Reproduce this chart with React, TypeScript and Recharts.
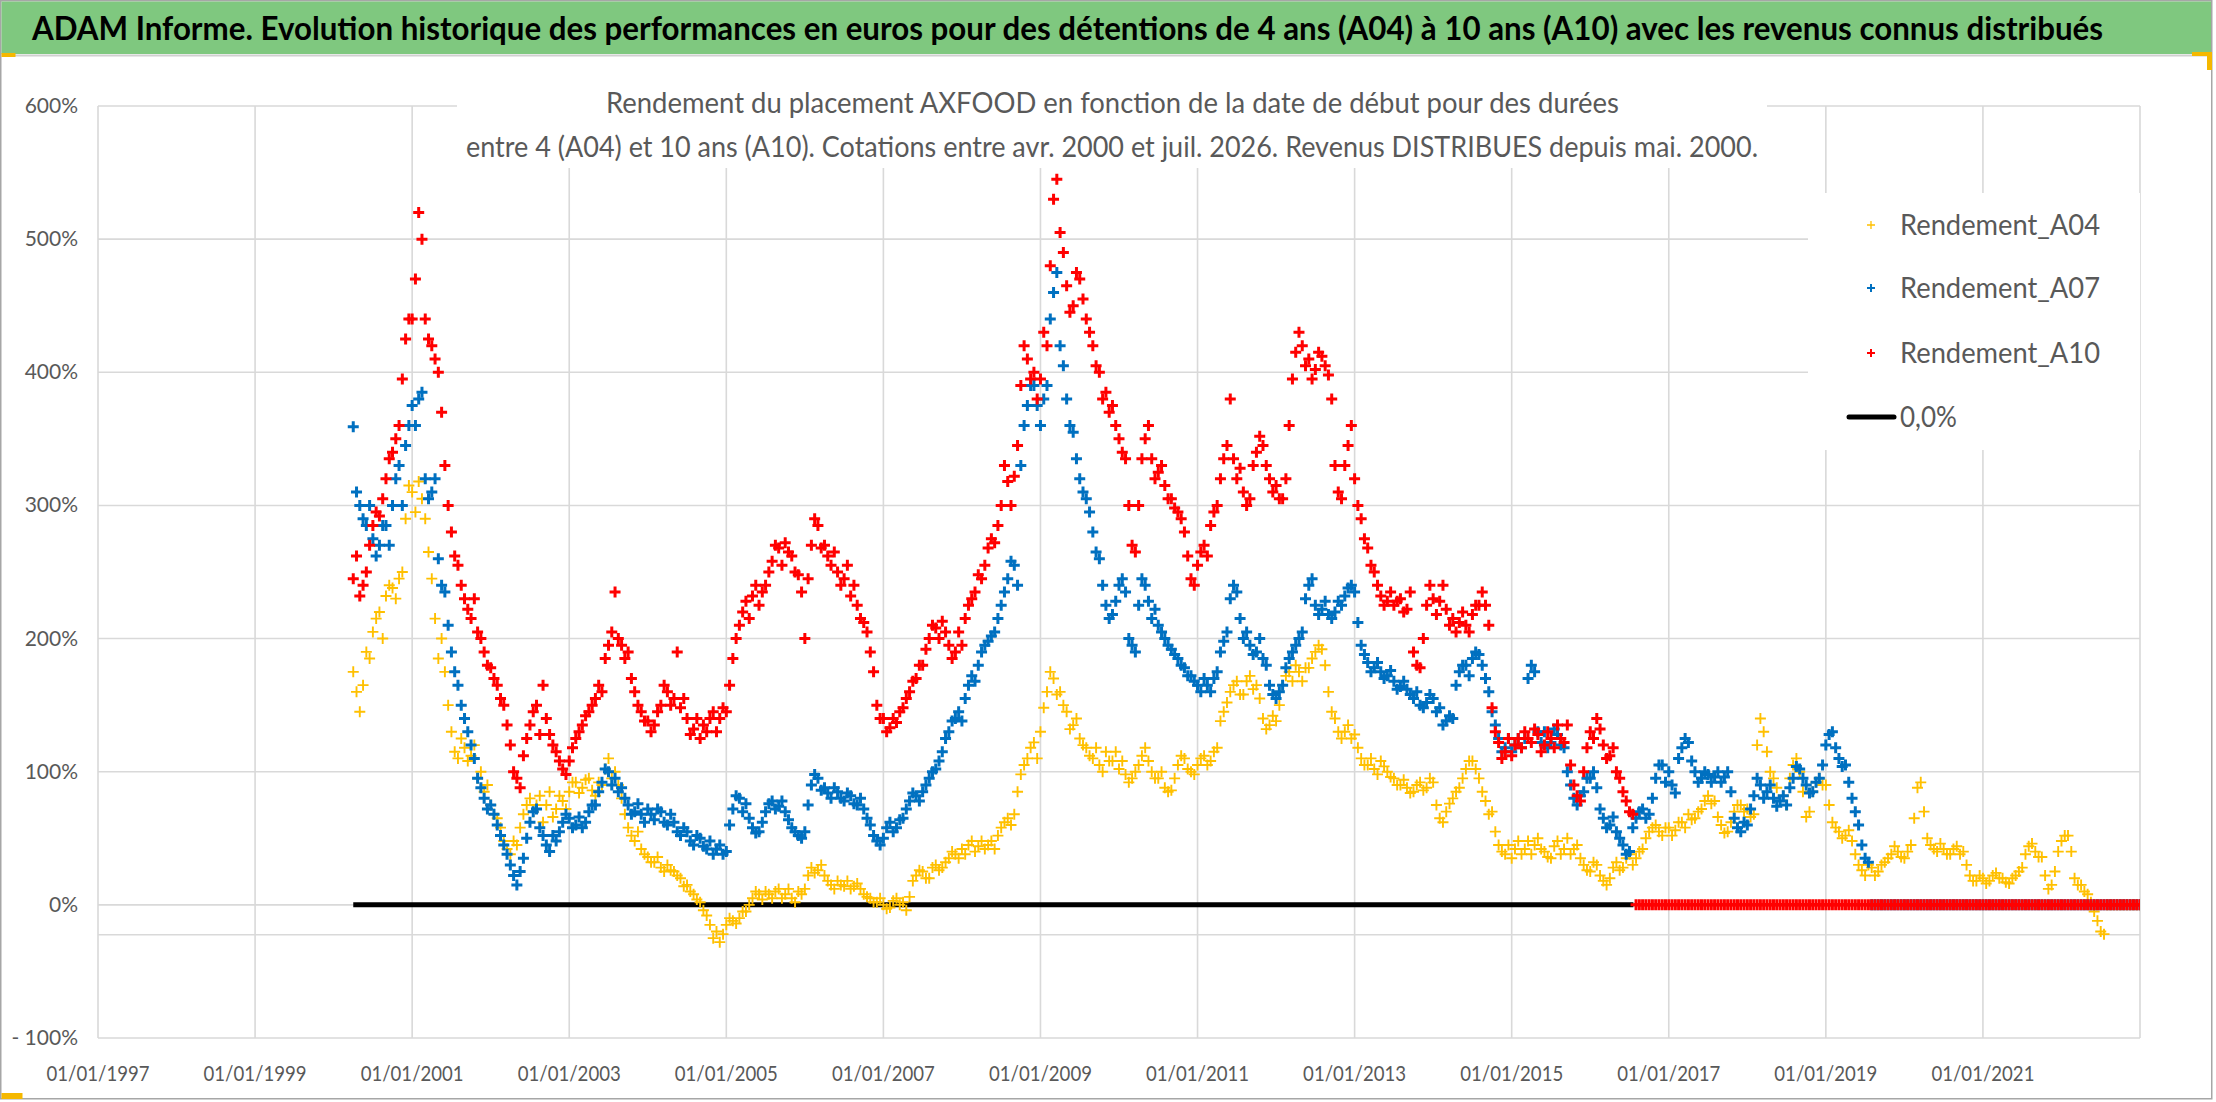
import React from 'react';
import { ScatterChart, Scatter, XAxis, YAxis, CartesianGrid, ReferenceLine } from 'recharts';

const N = null;

// start dates: one row per year; *_ROWS = 1st of each month, *_MID = mid-month readings
const YEARS = [2000, 2001, 2002, 2003, 2004, 2005, 2006, 2007, 2008, 2009, 2010, 2011, 2012, 2013, 2014, 2015, 2016, 2017, 2018, 2019, 2020, 2021, 2022, 2023];
const Z12 = [0, 0, 0, 0, 0, 0, 0, 0, 0, 0, 0, 0];

const A04_ROWS = [
  [N, N, N, 175, 145, 190, 205, 220, 232, 238, 245, 290],
  [310, 318, 290, 245, 185, 175, 130, 110, 118, 112, 95, 85],
  [75, 65, 48, 38, 45, 68, 80, 75, 62, 85, 72, 78],
  [85, 92, 88, 95, 82, 90, 110, 100, 80, 58, 48, 42],
  [36, 32, 28, 30, 25, 20, 15, 8, 2, -8, -25, -28],
  [-15, -12, -10, -5, 5, 8, 10, 5, 12, 8, 5, 10],
  [12, 28, 26, 22, 15, 18, 14, 12, 16, 8, 5, 2],
  [0, -2, 5, 2, 6, 22, 25, 20, 30, 28, 35, 38],
  [42, 45, 40, 48, 45, 42, 58, 65, 68, 98, 110, 122],
  [130, 160, 170, 160, 145, 135, 125, 118, 110, 105, 115, 108],
  [102, 98, 95, 105, 118, 100, 95, 88, 86, 105, 110, 100],
  [105, 112, 108, 118, 145, 160, 168, 158, 172, 165, 140, 135],
  [138, 165, 175, 180, 168, 178, 190, 192, 160, 140, 125, 135],
  [128, 110, 105, 102, 108, 100, 95, 90, 88, 85, 92, 88],
  [92, 65, 70, 80, 88, 102, 108, 95, 78, 70, 45, 38],
  [35, 48, 42, 38, 50, 40, 35, 48, 42, 38, 45, 30],
  [25, 30, 18, 20, 32, 28, 38, 35, 42, 55, 60, 52],
  [58, 56, 62, 68, 65, 72, 82, 78, 60, 55, 70, 75],
  [72, 68, 140, 115, 95, 78, 75, 105, 100, 66, 85, 95],
  [90, 62, 55, 52, 48, 30, 22, 28, 25, 32, 38, 40],
  [35, 45, 88, 70, 45, 40, 42, 38, 44, 40, 22, 18],
  [20, 18, 24, 20, 16, 22, 28, 44, 40, 36, 12, 25],
  [48, 52, 20, 15, 8, -5, -20, 0, 0, 0, 0, 0],
  [0],
];

const A04_MID = [
  [N, N, N, 160, 165, 185, 215, 200, 240, 230, 250, 315],
  [295, 305, 265, 215, 200, 150, 115, 125, 108, 120, 100, 90],
  [68, 58, 42, 48, 58, 75, 70, 82, 75, 66, 82, 72],
  [92, 84, 94, 86, 92, 102, 95, 90, 68, 52, 55, 38],
  [32, 36, 25, 26, 22, 14, 10, 4, -4, -15, -20, -22],
  [-10, -14, -5, 0, 10, 4, 8, 10, 5, 12, 2, 8],
  [22, 24, 30, 18, 12, 15, 18, 14, 12, 6, 2, 5],
  [-3, 3, 0, -4, 18, 26, 20, 28, 26, 32, 40, 35],
  [38, 48, 44, 42, 48, 52, 62, 60, 85, 105, 118, 110],
  [148, 175, 158, 150, 132, 140, 120, 112, 118, 100, 108, 115],
  [108, 92, 100, 112, 108, 95, 100, 85, 95, 112, 102, 98],
  [110, 105, 115, 138, 152, 165, 158, 168, 162, 155, 132, 142],
  [150, 172, 168, 175, 178, 185, 195, 180, 145, 130, 130, 125],
  [118, 105, 110, 98, 104, 96, 90, 94, 84, 90, 86, 95],
  [75, 62, 76, 85, 95, 108, 102, 85, 68, 55, 40, 45],
  [42, 38, 48, 45, 42, 36, 44, 38, 50, 42, 35, 26],
  [32, 22, 15, 28, 26, 35, 30, 40, 50, 58, 55, 58],
  [52, 62, 58, 64, 70, 78, 76, 66, 54, 62, 75, 70],
  [66, 120, 130, 100, 88, 82, 95, 110, 85, 70, 92, 90],
  [75, 58, 50, 56, 38, 26, 30, 22, 30, 35, 44, 36],
  [40, 65, 92, 50, 42, 46, 38, 42, 38, 30, 18, 22],
  [16, 22, 20, 17, 20, 25, 38, 46, 36, 22, 15, 40],
  [52, 40, 15, 10, 2, -12, -22, 0, 0, 0, 0, 0],
];

const A07_ROWS = [
  [N, N, N, 359, 300, 285, 275, 270, 285, 300, 330, 345],
  [375, 380, 320, 310, 260, 235, 190, 165, 140, 120, 95, 80],
  [75, 60, 45, 30, 15, 35, 62, 72, 52, 40, 48, 62],
  [65, 60, 58, 70, 75, 92, 100, 95, 88, 75, 70, 68],
  [72, 64, 70, 60, 62, 52, 55, 45, 50, 42, 38, 45],
  [40, 72, 80, 76, 58, 55, 70, 78, 74, 70, 58, 52],
  [55, 90, 95, 88, 80, 85, 78, 82, 75, 72, 60, 48],
  [50, 62, 58, 65, 78, 82, 85, 95, 102, 115, 130, 140],
  [138, 165, 168, 190, 198, 205, 225, 245, 255, 330, 375, 390],
  [360, 390, 460, 420, 380, 355, 320, 305, 280, 260, 225, 218],
  [240, 235, 195, 225, 240, 215, 210, 200, 192, 185, 178, 172],
  [165, 170, 160, 175, 198, 230, 235, 200, 195, 190, 185, 165],
  [155, 165, 185, 195, 205, 240, 225, 222, 218, 220, 225, 238],
  [235, 195, 182, 178, 175, 172, 168, 164, 162, 155, 150, 152],
  [155, 148, 138, 140, 175, 180, 185, 188, 170, 145, 125, 118],
  [115, 125, 125, 180, 130, 130, 122, 128, 118, 90, 75, 85],
  [95, 88, 65, 60, 55, 45, 40, 65, 72, 68, 95, 105],
  [100, 84, 118, 122, 100, 95, 98, 96, 92, 100, 65, 55],
  [60, 82, 90, 85, 80, 78, 75, 95, 102, 90, 85, 95],
  [120, 130, 110, 105, 80, 60, 35, 0, 0, 0, 0, 0],
  Z12,
  Z12,
  Z12,
  [0],
];

const A07_MID = [
  [N, N, N, 310, 290, 300, 262, 285, 270, 320, 300, 360],
  [360, 385, 305, 320, 240, 210, 175, 150, 130, 110, 88, 72],
  [68, 52, 38, 22, 25, 50, 70, 58, 45, 52, 55, 68],
  [58, 66, 62, 75, 85, 102, 90, 85, 80, 68, 76, 62],
  [68, 72, 62, 68, 55, 58, 48, 52, 44, 48, 42, 38],
  [60, 82, 70, 65, 54, 62, 76, 72, 78, 64, 55, 50],
  [75, 98, 86, 84, 88, 80, 84, 76, 80, 65, 52, 45],
  [58, 55, 64, 72, 84, 78, 90, 100, 108, 125, 138, 145],
  [155, 172, 180, 195, 202, 215, 235, 258, 240, 360, 390, 375],
  [380, 440, 475, 405, 360, 335, 310, 295, 265, 240, 215, 228],
  [245, 200, 190, 245, 228, 222, 205, 195, 188, 180, 172, 168],
  [160, 165, 170, 190, 205, 240, 215, 205, 188, 200, 180, 158],
  [160, 178, 190, 200, 230, 245, 218, 228, 215, 228, 232, 240],
  [212, 188, 175, 182, 170, 176, 162, 168, 158, 160, 148, 158],
  [145, 135, 142, 165, 180, 172, 190, 180, 160, 135, 115, 125],
  [120, 118, 170, 175, 122, 118, 132, 120, 100, 80, 82, 95],
  [100, 72, 58, 66, 50, 38, 58, 70, 65, 80, 105, 92],
  [90, 110, 125, 108, 92, 100, 92, 100, 96, 85, 58, 62],
  [72, 95, 80, 90, 74, 82, 88, 104, 95, 84, 92, 105],
  [128, 118, 104, 92, 70, 45, 32, 0, 0, 0, 0, 0],
  Z12,
  Z12,
  Z12,
];

const A10_ROWS = [
  [N, N, N, 245, 232, 250, 285, 292, 320, 340, 360, 425],
  [440, 520, 440, 420, 400, 330, 280, 255, 230, 215, 205, 190],
  [178, 165, 150, 120, 95, 112, 135, 150, 165, 128, 115, 102],
  [108, 125, 135, 145, 155, 160, 195, 235, 195, 190, 160, 145],
  [138, 135, 150, 160, 155, 148, 140, 132, 125, 130, 145, 140],
  [145, 185, 210, 228, 232, 225, 240, 258, 268, 272, 262, 248],
  [200, 270, 285, 270, 255, 250, 245, 232, 225, 212, 190, 150],
  [140, 133, 137, 148, 160, 170, 180, 200, 208, 213, 195, 190],
  [195, 225, 235, 245, 268, 272, 300, 318, 322, 390, 410, 400],
  [395, 420, 530, 505, 465, 450, 470, 440, 420, 400, 385, 375],
  [350, 335, 270, 300, 350, 335, 325, 315, 305, 295, 280, 245],
  [255, 270, 285, 300, 335, 380, 320, 310, 305, 340, 345, 320],
  [315, 305, 360, 415, 420, 410, 402, 412, 398, 330, 305, 345],
  [320, 290, 268, 250, 232, 228, 225, 230, 222, 190, 178, 225],
  [230, 228, 222, 215, 212, 210, 218, 225, 225, 148, 122, 115],
  [112, 125, 130, 122, 128, 120, 125, 135, 122, 105, 82, 100],
  [130, 140, 120, 112, 100, 85, 70, 0, 0, 0, 0, 0],
  Z12,
  Z12,
  Z12,
  Z12,
  Z12,
  Z12,
  [0],
];

const A10_MID = [
  [N, N, N, 262, 240, 270, 295, 305, 335, 350, 395, 440],
  [470, 500, 425, 410, 370, 300, 262, 240, 222, 230, 200, 180],
  [170, 155, 135, 100, 88, 125, 145, 128, 140, 120, 108, 98],
  [118, 130, 142, 150, 165, 185, 205, 200, 185, 170, 150, 138],
  [130, 145, 165, 150, 190, 155, 128, 140, 135, 140, 130, 148],
  [165, 200, 220, 215, 240, 235, 250, 270, 255, 265, 250, 235],
  [245, 290, 268, 262, 265, 240, 255, 240, 215, 205, 175, 140],
  [130, 140, 145, 155, 168, 180, 192, 210, 200, 205, 185, 205],
  [215, 230, 248, 255, 275, 285, 330, 300, 345, 420, 395, 380],
  [430, 480, 545, 490, 445, 475, 455, 430, 405, 380, 370, 360],
  [340, 300, 265, 335, 360, 320, 330, 305, 298, 290, 262, 240],
  [265, 262, 295, 320, 345, 335, 328, 300, 330, 352, 330, 310],
  [305, 320, 395, 430, 405, 395, 415, 405, 380, 310, 330, 360],
  [300, 275, 255, 240, 225, 235, 228, 220, 235, 180, 200, 240],
  [218, 240, 210, 205, 220, 205, 225, 235, 210, 130, 110, 125],
  [120, 118, 125, 132, 115, 130, 118, 125, 135, 90, 78, 118],
  [125, 132, 110, 118, 95, 78, 68, 0, 0, 0, 0, 0],
  Z12,
  Z12,
  Z12,
  Z12,
  Z12,
  Z12,
];

// "0,0%" reference series: start and end dates
const ZERO_LINE = [{ x: 2000.25, y: 0 }, { x: 2016.55, y: 0 }];

const X_TICKS = [1997, 1999, 2001, 2003, 2005, 2007, 2009, 2011, 2013, 2015, 2017, 2019, 2021];
const Y_TICKS = [-100, 0, 100, 200, 300, 400, 500, 600];

const TITLE = 'ADAM Informe. Evolution historique des performances en euros pour des détentions de 4 ans (A04) à 10 ans (A10) avec les revenus connus distribués';
const SUB1 = 'Rendement du placement AXFOOD en fonction de la date de début pour des durées';
const SUB2 = 'entre 4 (A04) et 10 ans (A10). Cotations entre avr. 2000 et juil. 2026. Revenus DISTRIBUES depuis mai. 2000.';

const FONT = "Lato, 'Open Sans', sans-serif";
const GREY = '#595959';

function toPoints(rows: (number | null)[][], mid: (number | null)[][]) {
  const pts: { x: number; y: number }[] = [];
  rows.forEach((row, i) => {
    row.forEach((v, m) => {
      if (v !== null) pts.push({ x: YEARS[i] + m / 12, y: v });
    });
  });
  mid.forEach((row, i) => {
    row.forEach((v, m) => {
      if (v !== null) pts.push({ x: YEARS[i] + (m + 0.5) / 12, y: v });
    });
  });
  return pts;
}

const SERIES = [
  { name: 'Rendement_A04', data: toPoints(A04_ROWS, A04_MID), color: '#FFC000', sw: 1.9, r: 5.5 },
  { name: 'Rendement_A07', data: toPoints(A07_ROWS, A07_MID), color: '#0070C0', sw: 3, r: 5.5 },
  { name: 'Rendement_A10', data: toPoints(A10_ROWS, A10_MID), color: '#FF0000', sw: 3, r: 5.5 },
];

const plus = (color: string, sw: number, r: number) => (p: any) => {
  const { cx, cy } = p;
  if (cx == null || cy == null) return <g />;
  return <path d={`M${cx - r},${cy}H${cx + r}M${cx},${cy - r}V${cy + r}`} stroke={color} strokeWidth={sw} fill="none" />;
};

const XTick = (p: any) => (
  <text x={p.x} y={1081} textAnchor="middle" fill={GREY} fontSize={21} fontFamily={FONT} textLength={103} lengthAdjust="spacingAndGlyphs">
    {`01/01/${p.payload.value}`}
  </text>
);

const YTick = (p: any) => {
  const v = p.payload.value;
  const label = v < 0 ? `- ${Math.abs(v)}%` : `${v}%`;
  return (
    <text x={78} y={p.y + 7} textAnchor="end" fill={GREY} fontSize={21} fontFamily={FONT}>
      {label}
    </text>
  );
};

function Overlay() {
  const legend = [
    { label: 'Rendement_A04', color: '#FFC000', sw: 1.3, y: 225 },
    { label: 'Rendement_A07', color: '#0070C0', sw: 2, y: 288 },
    { label: 'Rendement_A10', color: '#FF0000', sw: 2, y: 353 },
  ];
  return (
    <svg width={2216} height={1102} style={{ position: 'absolute', left: 0, top: 0, pointerEvents: 'none' }}>
      {/* frame */}
      <rect x={0.75} y={0.75} width={2211} height={1098} fill="none" stroke="#a6a6a6" strokeWidth={1.5} />
      {/* title bar */}
      <rect x={1.5} y={1.5} width={2209.5} height={52.5} fill="#7fc87f" />
      <line x1={1.5} x2={2211} y1={55.5} y2={55.5} stroke="#d0d0d0" strokeWidth={2} />
      <text x={32} y={40} fontSize={32} fontWeight={700} fontFamily={FONT} fill="#000" textLength={2071} lengthAdjust="spacingAndGlyphs">
        {TITLE}
      </text>
      {/* subtitle */}
      <rect x={457} y={74} width={1310} height={94} fill="#fff" />
      <text x={606} y={113} fontSize={29} fontFamily={FONT} fill={GREY} textLength={1013} lengthAdjust="spacingAndGlyphs">
        {SUB1}
      </text>
      <text x={466} y={157} fontSize={29} fontFamily={FONT} fill={GREY} textLength={1292} lengthAdjust="spacingAndGlyphs">
        {SUB2}
      </text>
      {/* legend */}
      <rect x={1808} y={193} width={332} height={257} fill="#fff" />
      {legend.map((l) => (
        <g key={l.label}>
          <path d={`M1867,${l.y}H1875M1871,${l.y - 4}V${l.y + 4}`} stroke={l.color} strokeWidth={l.sw} />
          <text x={1900} y={l.y + 10} fontSize={29} fontFamily={FONT} fill={GREY} textLength={200} lengthAdjust="spacingAndGlyphs">
            {l.label}
          </text>
        </g>
      ))}
      <line x1={1849} x2={1894} y1={417} y2={417} stroke="#000" strokeWidth={5} strokeLinecap="round" />
      <text x={1900} y={427} fontSize={29} fontFamily={FONT} fill={GREY} textLength={57} lengthAdjust="spacingAndGlyphs">
        0,0%
      </text>
      {/* selection handles */}
      <rect x={1.5} y={53} width={14} height={4} fill="#f5b800" />
      <rect x={2192} y={52} width={20} height={4} fill="#f5b800" />
      <rect x={2207} y={52} width={5} height={18} fill="#f5b800" />
      <rect x={1.5} y={1093} width={21} height={6} fill="#f5b800" />
    </svg>
  );
}

export default function App() {
  return (
    <div style={{ position: 'absolute', left: 0, top: 0, width: 2216, height: 1102, background: '#fff' }}>
      <ScatterChart width={2216} height={1102} margin={{ top: 106, right: 76, bottom: 0, left: 0 }}>
        <CartesianGrid stroke="#d9d9d9" strokeWidth={1.6} />
        <XAxis
          type="number"
          dataKey="x"
          domain={[1997, 2023]}
          ticks={X_TICKS}
          interval={0}
          allowDataOverflow
          height={64}
          axisLine={false}
          tickLine={false}
          tick={XTick}
        />
        <YAxis
          type="number"
          dataKey="y"
          domain={[-100, 600]}
          ticks={Y_TICKS}
          interval={0}
          allowDataOverflow
          width={98}
          axisLine={false}
          tickLine={false}
          tick={YTick}
        />
        <ReferenceLine y={-22.5} stroke="#d9d9d9" strokeWidth={1.6} />
        <Scatter
          name="0,0%"
          data={ZERO_LINE}
          line={{ stroke: '#000', strokeWidth: 5 }}
          lineType="joint"
          shape={() => <g />}
          isAnimationActive={false}
        />
        {SERIES.map((s) => (
          <Scatter key={s.name} name={s.name} data={s.data} shape={plus(s.color, s.sw, s.r)} isAnimationActive={false} />
        ))}
      </ScatterChart>
      <Overlay />
    </div>
  );
}
